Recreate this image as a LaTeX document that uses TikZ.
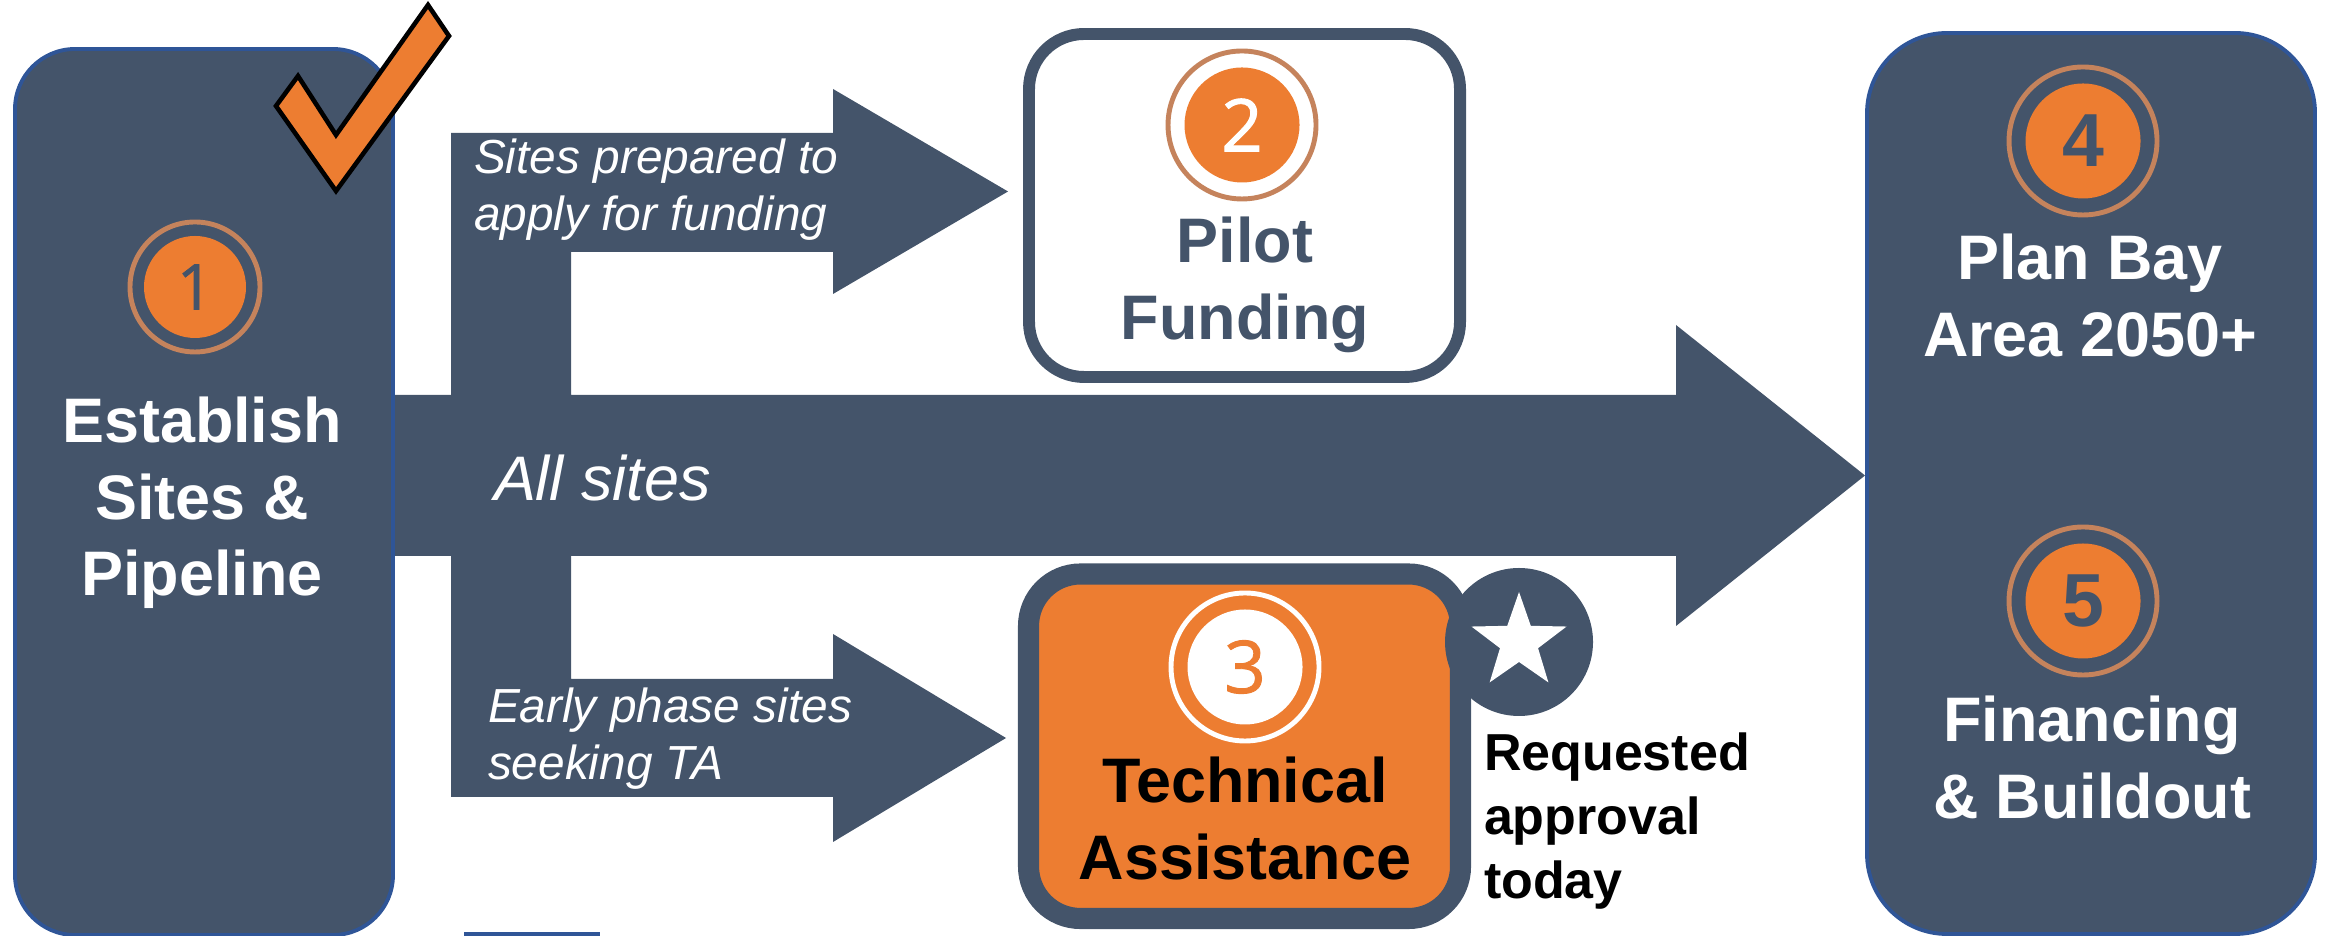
\documentclass[tikz,border=0pt]{standalone}
\usepackage{fontspec}
\setmainfont{Liberation Sans}
\newfontfamily\digitfont{Open Sans}[FakeBold=1.2]
\usetikzlibrary{shapes.geometric}
\definecolor{slate}{HTML}{44546A}
\definecolor{accent}{HTML}{ED7D31}
\definecolor{ringc}{HTML}{C5835C}
\definecolor{edgeblue}{HTML}{2F5597}
\begin{document}
\begin{tikzpicture}[inner sep=0pt,outer sep=0pt,
phasebox/.style={draw=edgeblue,line width=1.1pt,fill=slate,rectangle},
stepdisc/.style={circle,minimum size=1.15cm,fill=accent,font=\digitfont\fontsize{20.7}{22}\selectfont},
ringline/.style={draw=ringc,line width=1.4pt},
biglabel/.style={align=center,anchor=north,font=\bfseries\fontsize{17.9}{21.8}\selectfont},
flowlabel/.style={align=left,anchor=north west,text=white,font=\itshape\fontsize{13.6}{16.2}\selectfont}]

\useasboundingbox (0,0) rectangle (23.25,9.36);

% block arrows
\fill[slate] (3.93,5.41) -- (4.51,5.41) -- (4.51,8.03) -- (8.33,8.03) -- (8.33,8.47) -- (10.08,7.445) -- (8.33,6.42) -- (8.33,6.84) -- (5.71,6.84) -- (5.71,5.41) -- (16.76,5.41) -- (16.76,6.11) -- (18.65,4.605) -- (16.76,3.10) -- (16.76,3.80) -- (5.71,3.80) -- (5.71,2.57) -- (8.33,2.57) -- (8.33,3.02) -- (10.06,1.98) -- (8.33,0.94) -- (8.33,1.39) -- (4.51,1.39) -- (4.51,3.80) -- (3.93,3.80) -- cycle;
\fill[edgeblue] (4.64,0) rectangle (6.00,0.035);

\draw (2.04,4.44) node[phasebox,rounded corners=0.6cm,minimum width=3.78cm,minimum height=8.86cm] (est) {};
\draw (20.91,4.525) node[phasebox,rounded corners=0.8cm,minimum width=4.48cm,minimum height=9.01cm] (plan) {};
\draw (12.445,7.305) node[rectangle,draw=slate,line width=3.4pt,fill=white,rounded corners=0.55cm,minimum width=4.31cm,minimum height=3.43cm] (pilot) {};
\draw (12.445,1.8975) node[rectangle,draw=slate,line width=6pt,fill=accent,rounded corners=0.52cm,minimum width=4.32cm,minimum height=3.445cm] (ta) {};
\draw (15.19,2.94) node[circle,fill=slate,minimum size=1.48cm] (flag) {};
\draw (flag.center) node[star,star points=5,star point ratio=2.5,fill=white,minimum size=1.0cm] (starmark) {};

% numbered discs
\draw (1.95,6.49) node[stepdisc,minimum size=1.02cm,font=\digitfont\fontsize{18}{20}\selectfont,text=slate] (s1) {1};
\draw[ringline] (s1.center) circle (0.65);
\draw (12.42,8.11) node[stepdisc,text=white] (s2) {2};
\draw[ringline] (s2.center) circle (0.74);
\draw (12.45,2.69) node[stepdisc,fill=white,text=accent] (s3) {3};
\draw[ringline,draw=white] (s3.center) circle (0.74);
\draw (20.83,7.95) node[stepdisc,text=slate,font=\bfseries\fontsize{21.4}{22}\selectfont] (s4) {4};
\draw[ringline] (s4.center) circle (0.74);
\draw (20.83,3.35) node[stepdisc,text=slate,font=\bfseries\fontsize{21.4}{22}\selectfont] (s5) {5};
\draw[ringline] (s5.center) circle (0.74);

\draw (2.02,5.39) node[biglabel,text=white] (estlabel) {Establish\\Sites \&\\Pipeline};
\draw (12.45,7.19) node[biglabel,text=slate] (pilotlabel) {Pilot\\Funding};
\draw (12.45,1.79) node[biglabel,text=black] (talabel) {Technical\\Assistance};
\draw (20.90,7.02) node[biglabel,text=white] (planlabel) {Plan Bay\\Area 2050+};
\draw (20.92,2.40) node[biglabel,text=white] (finlabel) {Financing\\\& Buildout};
\draw (14.84,2.03) node[anchor=north west,align=left,font=\bfseries\fontsize{14.8}{18.2}\selectfont] (reqlabel) {Requested\\approval\\today};
\draw (4.74,7.97) node[flowlabel] (preplabel) {Sites prepared to\\apply for funding};
\draw (4.94,4.81) node[flowlabel,font=\itshape\fontsize{17.9}{20}\selectfont] (alllabel) {All sites};
\draw (4.88,2.48) node[flowlabel] (earlylabel) {Early phase sites\\seeking TA};

% check mark
\draw[draw=black,fill=accent,line width=1.3pt,line join=miter] (4.28,9.31) -- (4.49,9.00) -- (3.36,7.45) -- (2.76,8.30) -- (2.98,8.60) -- (3.36,8.01) -- cycle;
\end{tikzpicture}
\end{document}
